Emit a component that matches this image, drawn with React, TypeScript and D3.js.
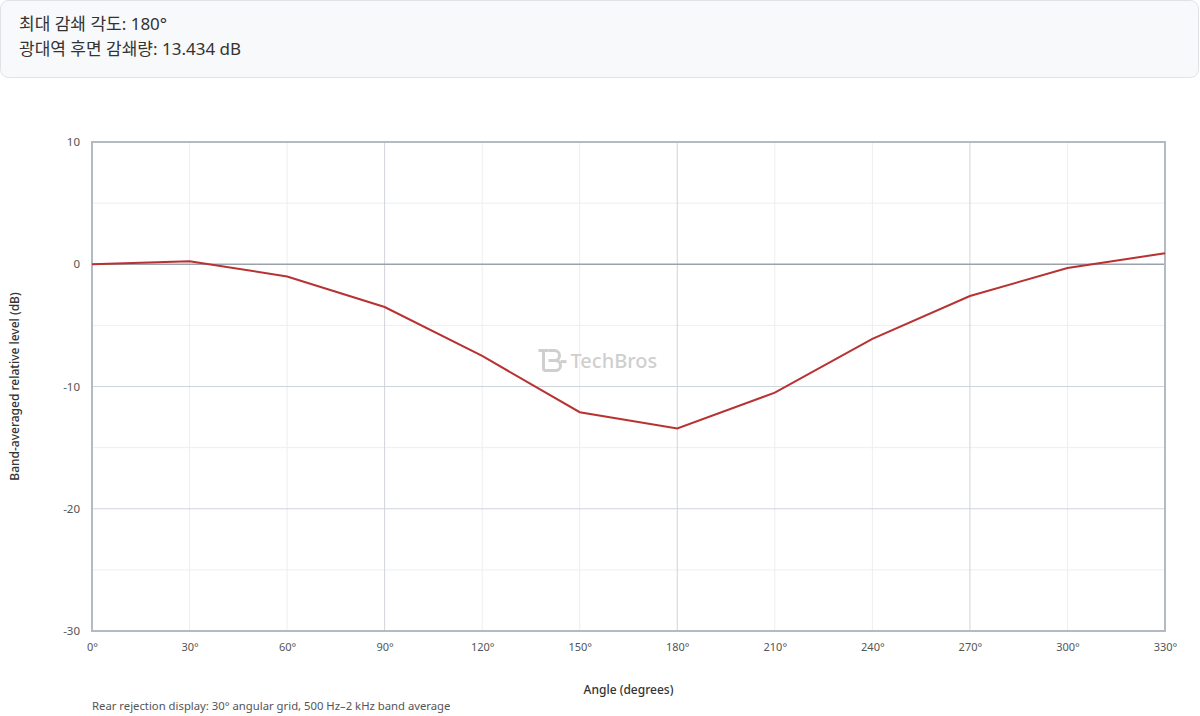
import * as d3 from 'd3'
import { useEffect, useRef } from 'react'

const angles = [0, 30, 60, 90, 120, 150, 180, 210, 240, 270, 300, 330]
const levels = [0, 0.25, -1.0, -3.5, -7.5, -12.1, -13.434, -10.5, -6.1, -2.6, -0.3, 0.9]
const yTicks = [10, 0, -10, -20, -30]
const infoLines = ['최대 감쇄 각도: 180°', '광대역 후면 감쇄량: 13.434 dB']

const FONT = '"Segoe UI", "Noto Sans", "Noto Sans CJK KR", sans-serif'

export default function App() {
  const svgRef = useRef<SVGSVGElement | null>(null)

  useEffect(() => {
    document.body.style.margin = '0'
    if (!svgRef.current)
      return

    const W = 1200
    const H = 716
    const margin = { top: 142, right: 35, bottom: 85, left: 92 }
    const width = W - margin.left - margin.right
    const height = H - margin.top - margin.bottom

    const root = d3.select(svgRef.current)
    root.selectAll('*').remove()
    root.attr('width', W).attr('height', H).style('display', 'block')

    // info box
    root.append('rect')
      .attr('x', 0.5).attr('y', 0.5)
      .attr('width', W - 2).attr('height', 77)
      .attr('rx', 8)
      .attr('fill', '#f8f9fb')
      .attr('stroke', '#dfe3e8')
    root.append('g')
      .selectAll('text')
      .data(infoLines)
      .enter()
      .append('text')
      .attr('x', 19)
      .attr('y', (_, i) => 30 + i * 25)
      .attr('font-family', FONT)
      .attr('font-size', 17)
      .attr('fill', '#333')
      .text(d => d)

    const svg = root.append('g')
      .attr('transform', `translate(${margin.left},${margin.top})`)

    const x = d3.scaleLinear().domain([0, 330]).range([0, width])
    const y = d3.scaleLinear().domain([-30, 10]).range([height, 0])

    // minor grid
    const minorX = d3.range(0, 331, 30).filter(v => v % 90 !== 0)
    const minorY = d3.range(-25, 10, 5).filter(v => v % 10 !== 0)
    svg.append('g')
      .selectAll('line')
      .data(minorX)
      .enter()
      .append('line')
      .attr('x1', d => x(d)).attr('x2', d => x(d))
      .attr('y1', 0).attr('y2', height)
      .attr('stroke', '#eceef1')
    svg.append('g')
      .selectAll('line')
      .data(minorY)
      .enter()
      .append('line')
      .attr('x1', 0).attr('x2', width)
      .attr('y1', d => y(d)).attr('y2', d => y(d))
      .attr('stroke', '#eceef1')

    // major grid
    svg.append('g')
      .selectAll('line')
      .data([90, 180, 270])
      .enter()
      .append('line')
      .attr('x1', d => x(d)).attr('x2', d => x(d))
      .attr('y1', 0).attr('y2', height)
      .attr('stroke', '#cfd4da')
    svg.append('g')
      .selectAll('line')
      .data([-10, -20])
      .enter()
      .append('line')
      .attr('x1', 0).attr('x2', width)
      .attr('y1', d => y(d)).attr('y2', d => y(d))
      .attr('stroke', '#cfd4da')

    // zero line
    svg.append('line')
      .attr('x1', 0).attr('x2', width)
      .attr('y1', y(0)).attr('y2', y(0))
      .attr('stroke', '#9aa3ad')
      .attr('stroke-width', 1.5)

    // watermark
    const wm = svg.append('g')
      .attr('transform', `translate(${width / 2 - 90},${y(-7.8)})`)
      .attr('fill', 'none')
      .attr('stroke', '#cfcfcf')
      .attr('stroke-width', 3)
    wm.append('path').attr('d', 'M0,-9 H10 M5,-9 V11')
    wm.append('path').attr('d', 'M10,-9 H16 A5,5 0 0 1 16,1 H10 M10,1 H17 A5,5 0 0 1 17,11 H5')
    wm.append('path').attr('d', 'M22,2 H28')
    svg.append('text')
      .attr('x', width / 2 - 58)
      .attr('y', y(-7.8) + 8)
      .attr('font-family', FONT)
      .attr('font-size', 20)
      .attr('font-weight', 500)
      .attr('fill', '#cfcfcf')
      .text('TechBros')

    // frame
    svg.append('rect')
      .attr('x', 0).attr('y', 0)
      .attr('width', width).attr('height', height)
      .attr('fill', 'none')
      .attr('stroke', '#b3bac2')
      .attr('stroke-width', 2)

    // line
    const line = d3.line<number>()
      .x((_, i) => x(angles[i]))
      .y(d => y(d))
    svg.append('path')
      .datum(levels)
      .attr('d', line)
      .attr('fill', 'none')
      .attr('stroke', '#b83232')
      .attr('stroke-width', 2)

    // axes labels
    const xAxis = svg.append('g')
      .attr('transform', `translate(0,${height})`)
      .call(d3.axisBottom(x).tickValues(angles).tickSize(0).tickPadding(12).tickFormat(d => `${d}°`))
    xAxis.select('.domain').remove()
    xAxis.selectAll('text')
      .attr('font-family', FONT)
      .attr('font-size', 11)
      .attr('fill', '#555')

    const yAxis = svg.append('g')
      .call(d3.axisLeft(y).tickValues(yTicks).tickSize(0).tickPadding(12).tickFormat(d => String(d)))
    yAxis.select('.domain').remove()
    yAxis.selectAll('text')
      .attr('font-family', FONT)
      .attr('font-size', 11.5)
      .attr('fill', '#555')

    svg.append('text')
      .attr('x', width / 2)
      .attr('y', height + 63)
      .attr('text-anchor', 'middle')
      .attr('font-family', FONT)
      .attr('font-size', 12)
      .attr('font-weight', 500)
      .attr('fill', '#333')
      .text('Angle (degrees)')

    svg.append('text')
      .attr('transform', `translate(${-73},${height / 2}) rotate(-90)`)
      .attr('text-anchor', 'middle')
      .attr('font-family', FONT)
      .attr('font-size', 12)
      .attr('font-weight', 500)
      .attr('fill', '#333')
      .text('Band-averaged relative level (dB)')

    root.append('text')
      .attr('x', 92)
      .attr('y', 710)
      .attr('font-family', FONT)
      .attr('font-size', 11.3)
      .attr('fill', '#555')
      .text('Rear rejection display: 30° angular grid, 500 Hz–2 kHz band average')
  }, [])

  return <svg ref={svgRef}></svg>
}
